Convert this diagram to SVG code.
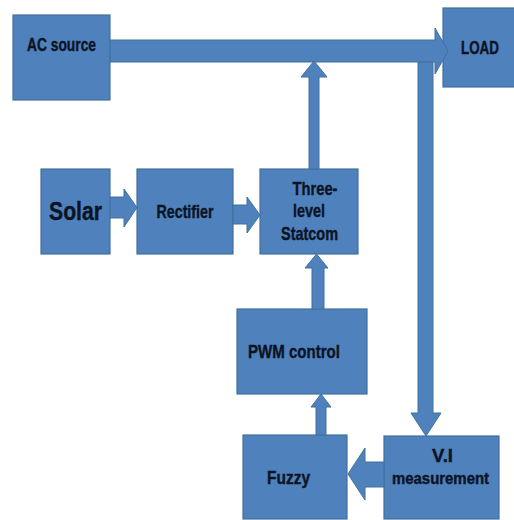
<svg xmlns="http://www.w3.org/2000/svg" width="514" height="520" viewBox="0 0 514 520">
<style>
.box{fill:#4f81bd;stroke:#41719c;stroke-width:1.2}
.arr{fill:#4f81bd;stroke:#41719c;stroke-width:1}
.t{font-family:"Liberation Sans",Arial,sans-serif;font-weight:bold;fill:#0c1424;stroke:#0c1424;stroke-width:0.4;text-anchor:middle}
</style>
<rect width="514" height="520" fill="#ffffff"/>
<g id="ac-source"><rect class="box" x="13" y="15" width="97" height="85"/><text class="t" x="61.5" y="51" font-size="18" textLength="69" lengthAdjust="spacingAndGlyphs">AC source</text></g>
<g id="load"><rect class="box" x="443" y="8" width="80" height="79"/><text class="t" x="480" y="54" font-size="18" textLength="38" lengthAdjust="spacingAndGlyphs">LOAD</text></g>
<g id="solar"><rect class="box" x="41" y="169" width="69" height="85"/><text class="t" x="75.5" y="220" font-size="25" textLength="53" lengthAdjust="spacingAndGlyphs">Solar</text></g>
<g id="rectifier"><rect class="box" x="137" y="169" width="96" height="85"/><text class="t" x="185" y="218" font-size="19" textLength="57" lengthAdjust="spacingAndGlyphs">Rectifier</text></g>
<g id="statcom"><rect class="box" x="260" y="169" width="98" height="85"/><text class="t" x="315" y="195" font-size="19" textLength="45" lengthAdjust="spacingAndGlyphs">Three-</text><text class="t" x="309" y="217" font-size="19" textLength="32" lengthAdjust="spacingAndGlyphs">level</text><text class="t" x="309.5" y="240" font-size="19" textLength="57" lengthAdjust="spacingAndGlyphs">Statcom</text></g>
<g id="pwm-control"><rect class="box" x="237" y="309" width="130" height="85"/><text class="t" x="294" y="358" font-size="19" textLength="92" lengthAdjust="spacingAndGlyphs">PWM control</text></g>
<g id="fuzzy"><rect class="box" x="243" y="435" width="104" height="84"/><text class="t" x="288.5" y="484" font-size="19" textLength="43" lengthAdjust="spacingAndGlyphs">Fuzzy</text></g>
<g id="vi-measurement"><rect class="box" x="384" y="436" width="115" height="83"/><text class="t" x="442.5" y="462" font-size="19" textLength="21" lengthAdjust="spacingAndGlyphs">V.I</text><text class="t" x="440.5" y="484" font-size="16" textLength="97" lengthAdjust="spacingAndGlyphs">measurement</text></g>
<g id="connectors">
<polygon class="arr" points="110,40 435,40 435,28 448,51 435,74 435,62 110,62"/>
<polygon class="arr" points="309,169 309,77 301,77 314,61 327,77 319,77 319,169"/>
<polygon class="arr" points="418,62 433,62 433,413 441,413 426,436 411,413 418,413"/>
<polygon class="arr" points="110,197 124,197 124,189 137,207.5 124,227 124,218 110,218"/>
<polygon class="arr" points="233,205 247,205 247,197 260,215 247,233 247,224 233,224"/>
<polygon class="arr" points="312,309 312,268 305,268 316.5,254 328,268 324,268 324,309"/>
<polygon class="arr" points="316,435 316,407 311,407 321,394 331,407 326,407 326,435"/>
<polygon class="arr" points="384,462 365,462 365,448 348,474 365,500 365,487 384,487"/>
</g>
</svg>
